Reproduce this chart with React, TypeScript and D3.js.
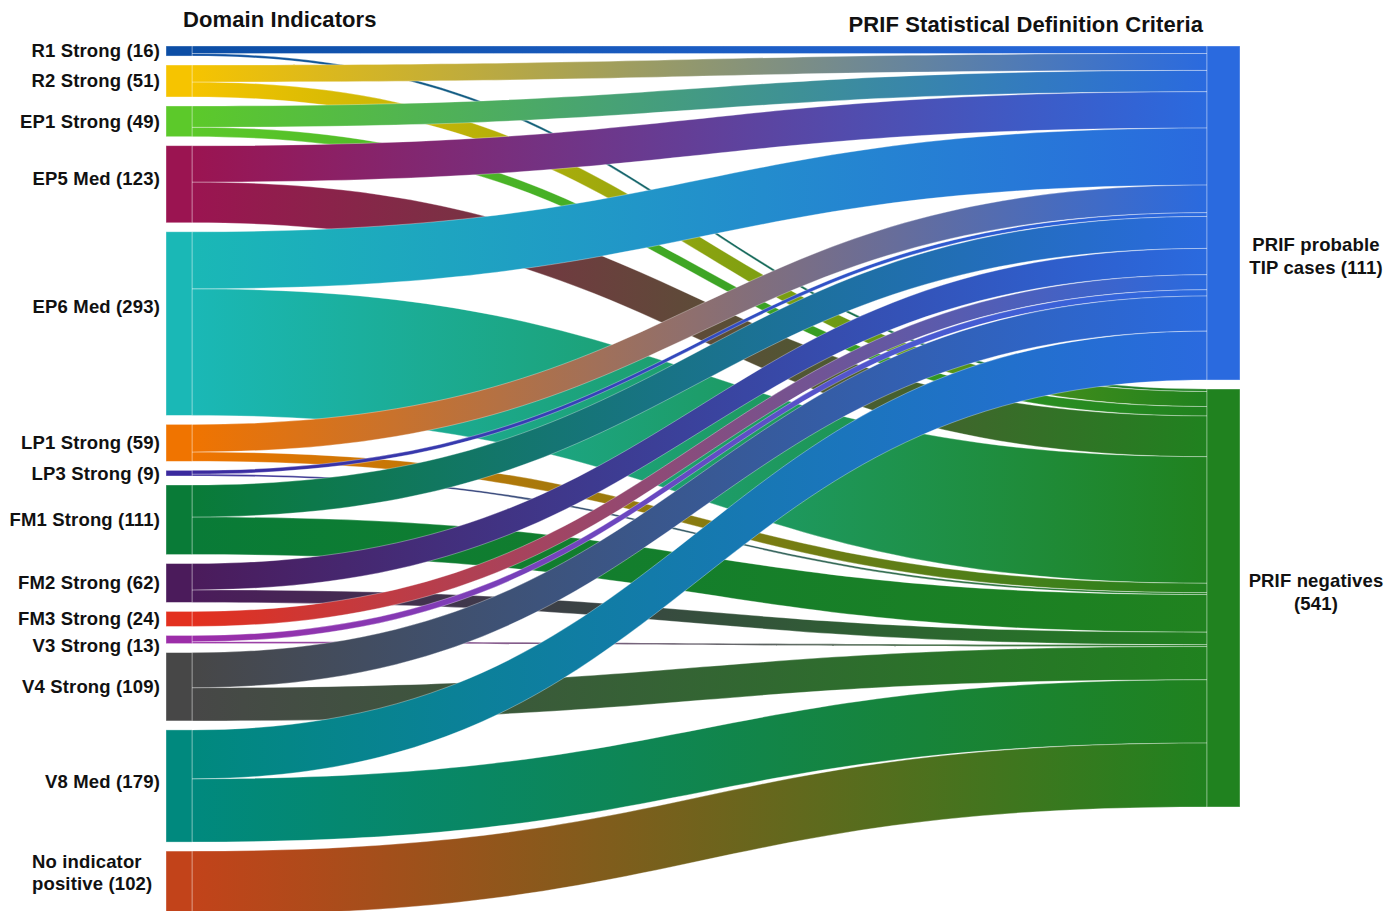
import React, { useEffect, useRef } from 'react';
import * as d3 from 'd3';

// Domain indicator nodes (left column)
const sourceNames = [
  'R1 Strong', 'R2 Strong', 'EP1 Strong', 'EP5 Med', 'EP6 Med', 'LP1 Strong', 'LP3 Strong',
  'FM1 Strong', 'FM2 Strong', 'FM3 Strong', 'V3 Strong', 'V4 Strong', 'V8 Med', 'No indicator\npositive',
];
const sourceCounts = [16, 51, 49, 123, 293, 59, 9, 111, 62, 24, 13, 109, 179, 102];
const sourceColors = [
  '#0c4ea5', '#f6c400', '#5cc92a', '#9b1451', '#1ab8b6', '#f07400', '#3b2a9e',
  '#097b37', '#4b1b5b', '#e3301e', '#9c2da8', '#474747', '#00897e', '#c2431a',
];

// flows from each indicator into the two PRIF categories
const tipFlow = [12, 27, 34, 58, 91, 44, 6, 51, 42, 24, 10, 56, 78, 0];
const negFlow = [4, 24, 15, 65, 202, 15, 3, 60, 20, 0, 3, 53, 101, 102];

// PRIF nodes (right column)
const targetNames = ['PRIF probable\nTIP cases', 'PRIF negatives\n'];
const targetCounts = [111, 541];
const targetColors = ['#2a6adf', '#20821f'];

// hand nudges for label placement
const labelNudge: Record<string, number> = {
  'EP5 Med': -6, 'EP6 Med': -17, 'V3 Strong': 6, 'V8 Med': -4, 'No indicator\npositive': -11,
};
const targetNudge = [43, -6];

const W = 1400;
const H = 911;

interface LinkPt { x: number; y0: number; y1: number; }

const App: React.FC = () => {
  const svgRef = useRef<SVGSVGElement>(null);

  useEffect(() => {
    if (!svgRef.current) return;
    const svg = d3.select(svgRef.current);
    svg.selectAll('*').remove();

    const font = '"Liberation Sans", Arial, Helvetica, sans-serif';
    const leftX0 = 166, leftX1 = 192, rightX0 = 1207, rightX1 = 1240;
    const top = 46, bottom = 915, gap = 9;

    const total = d3.sum(sourceCounts);
    const k = (bottom - top - gap * (sourceCounts.length - 1)) / total;
    const y = d3.scaleLinear().domain([0, total]).range([0, total * k]);

    // source node positions
    const srcY0: number[] = [];
    let cur = top;
    sourceCounts.forEach(v => {
      srcY0.push(cur);
      cur += y(v) + gap;
    });

    // target node positions
    const tipTotal = d3.sum(tipFlow);
    const negTotal = d3.sum(negFlow);
    const tgtY0 = [top, top + y(tipTotal) + gap];
    const tgtH = [y(tipTotal), y(negTotal)];

    const defs = svg.append('defs');
    const area = d3.area<LinkPt>()
      .x(d => d.x)
      .y0(d => d.y0)
      .y1(d => d.y1)
      .curve(d3.curveBumpX);

    type Link = { s: number; t: number; v: number; sy: number; ty: number };
    const links: Link[] = [];
    const tgtOffset = [0, 0];
    sourceCounts.forEach((_, i) => {
      const flows = [tipFlow[i], negFlow[i]];
      let sOff = 0;
      flows.forEach((v, t) => {
        if (v > 0) {
          links.push({ s: i, t, v, sy: srcY0[i] + sOff, ty: tgtY0[t] + tgtOffset[t] });
        }
        sOff += y(v);
        tgtOffset[t] += y(v);
      });
    });

    // negatives underneath, probable-TIP links on top
    const ordered = [...links.filter(l => l.t === 1), ...links.filter(l => l.t === 0)];

    const linkG = svg.append('g');
    ordered.forEach((l, idx) => {
      const id = `lg-${idx}`;
      const grad = defs.append('linearGradient')
        .attr('id', id)
        .attr('gradientUnits', 'userSpaceOnUse')
        .attr('x1', leftX1).attr('x2', rightX0)
        .attr('y1', 0).attr('y2', 0);
      grad.append('stop').attr('offset', '0%').attr('stop-color', sourceColors[l.s]);
      grad.append('stop').attr('offset', '100%').attr('stop-color', targetColors[l.t]);

      const w = y(l.v);
      linkG.append('path')
        .attr('d', area([
          { x: leftX1, y0: l.sy, y1: l.sy + w },
          { x: rightX0, y0: l.ty, y1: l.ty + w },
        ]))
        .attr('fill', `url(#${id})`)
        .attr('stroke', 'rgba(255,255,255,0.55)')
        .attr('stroke-width', 0.6);
    });

    // nodes
    const nodeG = svg.append('g');
    sourceCounts.forEach((v, i) => {
      nodeG.append('rect')
        .attr('x', leftX0).attr('y', srcY0[i])
        .attr('width', leftX1 - leftX0).attr('height', y(v))
        .attr('fill', sourceColors[i])
        .attr('stroke', 'rgba(255,255,255,0.45)')
        .attr('stroke-width', 0.8);
    });
    targetCounts.forEach((_, t) => {
      nodeG.append('rect')
        .attr('x', rightX0).attr('y', tgtY0[t])
        .attr('width', rightX1 - rightX0).attr('height', tgtH[t])
        .attr('fill', targetColors[t])
        .attr('stroke', 'rgba(255,255,255,0.45)')
        .attr('stroke-width', 0.8);
    });

    // left labels
    const labelG = svg.append('g')
      .style('font-family', font)
      .style('font-weight', 'bold')
      .style('font-size', '18.5px')
      .style('letter-spacing', '0.15px')
      .attr('fill', '#111');

    sourceNames.forEach((name, i) => {
      const lines = `${name} (${sourceCounts[i]})`.split('\n');
      const cy = srcY0[i] + y(sourceCounts[i]) / 2 + (labelNudge[name] || 0);
      const lh = 22;
      const multi = lines.length > 1;
      const txt = labelG.append('text')
        .attr('text-anchor', multi ? 'start' : 'end');
      lines.forEach((ln, j) => {
        txt.append('tspan')
          .attr('x', multi ? 32 : 160)
          .attr('y', cy + (j - (lines.length - 1) / 2) * lh)
          .attr('dy', '0.35em')
          .text(ln);
      });
    });

    // right labels
    targetNames.forEach((name, t) => {
      const lines = `${name}(${targetCounts[t]})`.replace('cases(', 'cases (').split('\n');
      const cy = tgtY0[t] + tgtH[t] / 2 + targetNudge[t];
      const lh = 23;
      const txt = labelG.append('text').attr('text-anchor', 'middle');
      lines.forEach((ln, j) => {
        txt.append('tspan')
          .attr('x', 1316)
          .attr('y', cy + (j - (lines.length - 1) / 2) * lh)
          .attr('dy', '0.35em')
          .text(ln);
      });
    });

    // column titles
    const titleStyle = (sel: d3.Selection<SVGTextElement, unknown, null, undefined>) =>
      sel.style('font-family', font).style('font-weight', 'bold').style('font-size', '22px')
        .style('letter-spacing', '0.1px').attr('fill', '#111');

    svg.append('text')
      .attr('x', 183).attr('y', 27)
      .call(titleStyle)
      .text('Domain Indicators');
    svg.append('text')
      .attr('x', 1203).attr('y', 31.5)
      .attr('text-anchor', 'end')
      .call(titleStyle)
      .text('PRIF Statistical Definition Criteria');
  }, []);

  return (
    <svg
      ref={svgRef}
      width={W}
      height={H}
      style={{ position: 'absolute', left: 0, top: 0, background: '#fff', overflow: 'hidden' }}
    />
  );
};

export default App;
